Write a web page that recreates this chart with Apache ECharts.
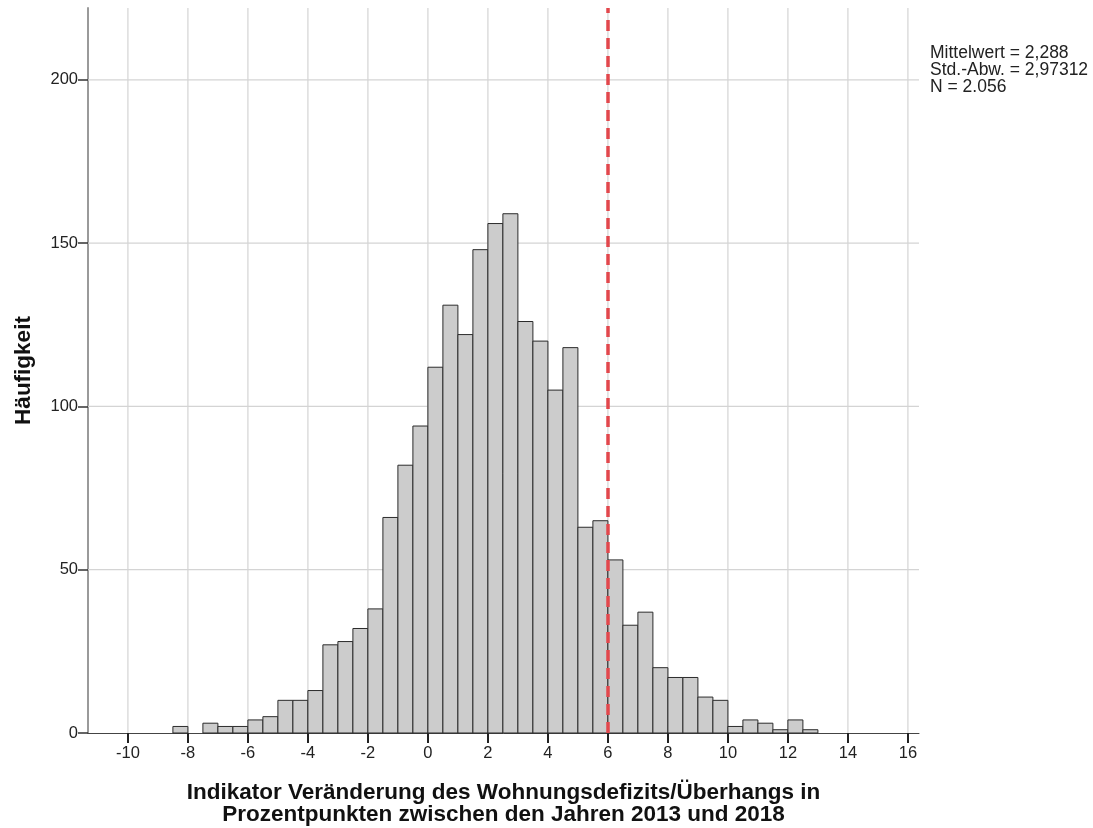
<!DOCTYPE html>
<html>
<head>
<meta charset="utf-8">
<title>Histogramm Wohnungsdefizit</title>
<script src="https://cdn.jsdelivr.net/npm/echarts@6/dist/echarts.min.js"></script>
<style>
  html, body { margin: 0; padding: 0; background: #ffffff; }
  #chart { width: 1093px; height: 828px; }
</style>
</head>
<body>
<div id="chart"></div>
<script>
// Histogram bins: lower edge of each 0.5-wide class and its frequency
const binWidth = 0.5;
const binStarts = [
  -8.5, -8, -7.5, -7, -6.5, -6, -5.5, -5, -4.5, -4, -3.5, -3, -2.5, -2,
  -1.5, -1, -0.5, 0, 0.5, 1, 1.5, 2, 2.5, 3, 3.5, 4, 4.5, 5, 5.5,
  6, 6.5, 7, 7.5, 8, 8.5, 9, 9.5, 10, 10.5, 11, 11.5, 12, 12.5
];
const counts = [
  2, 0, 3, 2, 2, 4, 5, 10, 10, 13, 27, 28, 32, 38,
  66, 82, 94, 112, 131, 122, 148, 156, 159, 126, 120, 105, 118, 63, 65,
  53, 33, 37, 20, 17, 17, 11, 10, 2, 4, 3, 1, 4, 1
];

// Axis ticks
const xTicks = [-10, -8, -6, -4, -2, 0, 2, 4, 6, 8, 10, 12, 14, 16];
const yTicks = [0, 50, 100, 150, 200];

// Reference line position and summary statistics
const markerX = 6;
const statLines = ['Mittelwert = 2,288', 'Std.-Abw. = 2,97312', 'N = 2.056'];

const xTitle = 'Indikator Veränderung des Wohnungsdefizits/Überhangs in\nProzentpunkten zwischen den Jahren 2013 und 2018';
const yTitle = 'Häufigkeit';

const FONT = 'Arial, "Liberation Sans", sans-serif';
const xMin = -11.33, xMax = 16.37, yMin = 0, yMax = 222;

const binData = binStarts.map((s, i) => [s, counts[i]]);

const chart = echarts.init(document.getElementById('chart'), null, { renderer: 'canvas' });

chart.setOption({
  animation: false,
  backgroundColor: '#ffffff',
  grid: { left: 88, right: 174, top: 8, bottom: 95, containLabel: false, outerBoundsMode: 'none' },
  xAxis: {
    type: 'value',
    min: xMin,
    max: xMax,
    name: xTitle,
    nameLocation: 'middle',
    nameGap: 49,
    nameTextStyle: { fontFamily: FONT, fontSize: 22.5, fontWeight: 'bold', color: '#111', lineHeight: 22 },
    axisLine: { show: true, onZero: false, lineStyle: { color: '#444', width: 1 } },
    axisTick: { show: true, customValues: xTicks, length: 10, lineStyle: { color: '#222', width: 2 } },
    axisLabel: { customValues: xTicks, fontFamily: FONT, fontSize: 16.5, color: '#222', margin: 12 },
    splitLine: { show: false }
  },
  yAxis: {
    type: 'value',
    min: yMin,
    max: yMax,
    name: yTitle,
    nameLocation: 'middle',
    nameRotate: 90,
    nameGap: 53,
    nameTextStyle: { fontFamily: FONT, fontSize: 22.5, fontWeight: 'bold', color: '#111' },
    axisLine: { show: true, onZero: false, lineStyle: { color: '#9a9a9a', width: 2 } },
    axisTick: { show: true, customValues: yTicks, length: 10, lineStyle: { color: '#333', width: 1.5 } },
    axisLabel: { customValues: yTicks, fontFamily: FONT, fontSize: 16.5, color: '#222', margin: 10 },
    splitLine: { show: false }
  },
  graphic: [{
    type: 'text',
    left: 930,
    top: 44,
    style: {
      text: statLines.join('\n'),
      font: '17.5px ' + FONT,
      fill: '#222',
      lineHeight: 17
    }
  }],
  series: [
    {
      // light grid lines behind the bars
      name: 'grid',
      type: 'custom',
      silent: true,
      z: 1,
      clip: true,
      data: [0],
      renderItem: function (params, api) {
        const children = [];
        xTicks.forEach(function (t) {
          const top = api.coord([t, yMax]);
          const bot = api.coord([t, yMin]);
          children.push({
            type: 'line',
            shape: { x1: top[0], y1: top[1], x2: bot[0], y2: bot[1] },
            style: { stroke: '#d4d4d4', lineWidth: 1.2 }
          });
        });
        yTicks.slice(1).forEach(function (t) {
          const l = api.coord([xMin, t]);
          const r = api.coord([xMax, t]);
          children.push({
            type: 'line',
            shape: { x1: l[0], y1: l[1], x2: r[0], y2: r[1] },
            style: { stroke: '#d4d4d4', lineWidth: 1.2 }
          });
        });
        return { type: 'group', children: children };
      }
    },
    {
      name: 'Häufigkeit',
      type: 'custom',
      z: 3,
      data: binData,
      encode: { x: 0, y: 1 },
      renderItem: function (params, api) {
        const start = api.value(0);
        const count = api.value(1);
        if (!count) return null;
        const p0 = api.coord([start, count]);
        const p1 = api.coord([start + binWidth, 0]);
        return {
          type: 'rect',
          shape: { x: p0[0], y: p0[1], width: p1[0] - p0[0], height: p1[1] - p0[1] },
          style: { fill: '#cccccc', stroke: '#2b2b2b', lineWidth: 1 }
        };
      },
      markLine: {
        silent: true,
        symbol: ['none', 'none'],
        label: { show: false },
        lineStyle: { color: '#e2474c', width: 3.5, type: [11, 7] },
        data: [{ xAxis: markerX }],
        z: 10
      }
    }
  ]
});
</script>
</body>
</html>
